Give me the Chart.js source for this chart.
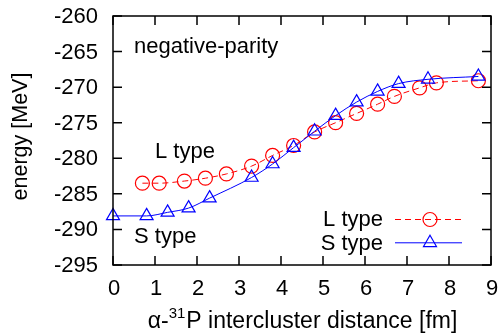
<!DOCTYPE html>
<html>
<head>
<meta charset="utf-8">
<script src="https://cdn.jsdelivr.net/npm/chart.js@4.4.0/dist/chart.umd.min.js"></script>
<style>
  html, body { margin: 0; padding: 0; background: #fff; }
</style>
</head>
<body>
<canvas id="energyChart" width="500" height="336"></canvas>
<script>
// distances [fm] and energies [MeV]
const lTypeDistance = [0.7, 1.1, 1.7, 2.2, 2.7, 3.3, 3.8, 4.3, 4.8, 5.3, 5.8, 6.3, 6.7, 7.3, 7.7, 8.7];
const lTypeEnergy = [-283.5, -283.5, -283.2, -282.8, -282.2, -281.1, -279.6, -278.2, -276.3, -275.0, -273.7, -272.4, -271.3, -270.1, -269.4, -269.1];
const sTypeDistance = [0.0, 0.8, 1.3, 1.8, 2.3, 3.3, 3.8, 4.3, 4.8, 5.3, 5.8, 6.3, 6.8, 7.5, 8.7];
const sTypeEnergy = [-288.1, -288.1, -287.6, -287.0, -285.6, -282.7, -280.8, -278.5, -276.2, -274.0, -272.1, -270.6, -269.5, -268.9, -268.5];
const xTicks = [0, 1, 2, 3, 4, 5, 6, 7, 8, 9];
const yTicks = [-295, -290, -285, -280, -275, -270, -265, -260];

const FONT = '"Liberation Sans", Arial, Helvetica, sans-serif';
const RED = '#ff0000';
const BLUE = '#0000ff';
const NONE = 'rgba(0,0,0,0)';

function toPoints(xs, ys) {
    return xs.map((x, i) => ({ x: x, y: ys[i] }));
}

// frame with inward ticks, tick labels, annotations and the legend (gnuplot look)
const framePlugin = {
    id: 'frame',
    afterDatasetsDraw(chart) {
        const ctx = chart.ctx;
        const a = chart.chartArea;
        const xs = chart.scales.x;
        const ys = chart.scales.y;
        const tick = 9;

        ctx.save();
        ctx.strokeStyle = '#000';
        ctx.lineWidth = 1.5;
        ctx.strokeRect(a.left, a.top, a.right - a.left, a.bottom - a.top);

        ctx.beginPath();
        xTicks.forEach(v => {
            const px = xs.getPixelForValue(v);
            ctx.moveTo(px, a.bottom); ctx.lineTo(px, a.bottom - tick);
            ctx.moveTo(px, a.top); ctx.lineTo(px, a.top + tick);
        });
        yTicks.forEach(v => {
            const py = ys.getPixelForValue(v);
            ctx.moveTo(a.left, py); ctx.lineTo(a.left + tick, py);
            ctx.moveTo(a.right, py); ctx.lineTo(a.right - tick, py);
        });
        ctx.stroke();

        // tick labels
        ctx.fillStyle = '#000';
        ctx.font = '22px ' + FONT;
        ctx.textAlign = 'center';
        ctx.textBaseline = 'alphabetic';
        xTicks.forEach(v => {
            ctx.fillText(String(v), xs.getPixelForValue(v) + 1, a.bottom + 30);
        });
        ctx.textAlign = 'right';
        ctx.textBaseline = 'middle';
        yTicks.forEach(v => {
            ctx.fillText(String(v), a.left - 15, ys.getPixelForValue(v) + 1);
        });

        // annotations
        ctx.textBaseline = 'alphabetic';
        ctx.textAlign = 'left';
        ctx.fillText('negative-parity', a.left + 21, a.top + 37);
        ctx.fillText('L type', a.left + 42, a.top + 142);
        ctx.fillText('S type', a.left + 21, a.top + 227);

        // legend
        ctx.textAlign = 'right';
        ctx.fillText('L type', 383, 226);
        ctx.fillText('S type', 383, 250);

        ctx.lineWidth = 1;
        ctx.strokeStyle = RED;
        ctx.setLineDash([6, 4]);
        ctx.beginPath();
        ctx.moveTo(395, 219.5); ctx.lineTo(462, 219.5);
        ctx.stroke();
        ctx.setLineDash([]);
        ctx.strokeStyle = BLUE;
        ctx.beginPath();
        ctx.moveTo(395, 242.8); ctx.lineTo(462, 242.8);
        ctx.stroke();

        ctx.fillStyle = NONE;
        ctx.lineWidth = 1.2;
        ctx.strokeStyle = RED;
        Chart.helpers.drawPoint(ctx, { pointStyle: 'circle', radius: 7, borderWidth: 1.2 }, 430, 219.5);
        ctx.strokeStyle = BLUE;
        Chart.helpers.drawPoint(ctx, { pointStyle: 'triangle', radius: 7.5, borderWidth: 1.2 }, 430, 242.8);

        // x axis title with superscript
        ctx.fillStyle = '#000';
        ctx.textAlign = 'left';
        const mainFont = '23px ' + FONT;
        const supFont = '15px ' + FONT;
        ctx.font = mainFont;
        const w1 = ctx.measureText('\u03b1-').width;
        const w3 = ctx.measureText('P intercluster distance [fm]').width;
        ctx.font = supFont;
        const w2 = ctx.measureText('31').width;
        let tx = 302 - (w1 + w2 + w3) / 2;
        const ty = 328;
        ctx.font = mainFont;
        ctx.fillText('\u03b1-', tx, ty);
        tx += w1;
        ctx.font = supFont;
        ctx.fillText('31', tx, ty - 10);
        tx += w2 + 1;
        ctx.font = mainFont;
        ctx.fillText('P intercluster distance [fm]', tx, ty);

        // y axis title
        ctx.translate(21, (a.top + a.bottom) / 2 - 4);
        ctx.rotate(-Math.PI / 2);
        ctx.textAlign = 'center';
        ctx.textBaseline = 'middle';
        ctx.font = '21.5px ' + FONT;
        ctx.fillText('energy [MeV]', 0, 0);
        ctx.restore();
    }
};

new Chart(document.getElementById('energyChart'), {
    type: 'scatter',
    data: {
        datasets: [
            {
                label: 'L type',
                data: toPoints(lTypeDistance, lTypeEnergy),
                showLine: true,
                borderColor: RED,
                backgroundColor: NONE,
                borderWidth: 1,
                borderDash: [6, 4],
                cubicInterpolationMode: 'monotone',
                pointStyle: 'circle',
                pointRadius: 7,
                pointBorderWidth: 1.2,
                pointBorderColor: RED,
                pointBackgroundColor: NONE,
                clip: false,
                order: 2
            },
            {
                label: 'S type',
                data: toPoints(sTypeDistance, sTypeEnergy),
                showLine: true,
                borderColor: BLUE,
                backgroundColor: NONE,
                borderWidth: 1,
                cubicInterpolationMode: 'monotone',
                pointStyle: 'triangle',
                pointRadius: 7.5,
                pointBorderWidth: 1.2,
                pointBorderColor: BLUE,
                pointBackgroundColor: NONE,
                clip: false,
                order: 1
            }
        ]
    },
    options: {
        responsive: false,
        animation: false,
        layout: { padding: { top: 16, right: 9, left: 0, bottom: 0 } },
        plugins: {
            legend: { display: false },
            tooltip: { enabled: false }
        },
        scales: {
            x: {
                type: 'linear',
                min: 0,
                max: 9,
                grid: { display: false },
                border: { display: false },
                ticks: { display: false },
                afterFit: s => { s.height = 71; }
            },
            y: {
                type: 'linear',
                min: -295,
                max: -260,
                grid: { display: false },
                border: { display: false },
                ticks: { display: false },
                afterFit: s => { s.width = 113; }
            }
        }
    },
    plugins: [framePlugin]
});
</script>
</body>
</html>
